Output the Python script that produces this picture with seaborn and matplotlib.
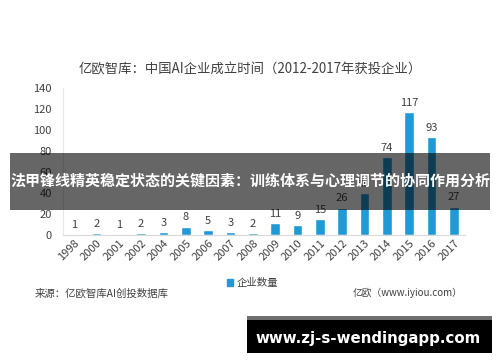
import numpy as np
import pandas as pd
import matplotlib
matplotlib.use("Agg")
import matplotlib.pyplot as plt
import seaborn as sns
from matplotlib.patches import Rectangle

# data
years = ['1998', '2000', '2001', '2002', '2004', '2005', '2006', '2007', '2008',
         '2009', '2010', '2011', '2012', '2013', '2014', '2015', '2016', '2017']
counts = [1, 2, 1, 2, 3, 8, 5, 3, 2, 11, 9, 15, 26, 40, 74, 117, 93, 27]
y_ticks = [0, 20, 40, 60, 80, 100, 120, 140]

title = '亿欧智库：中国AI企业成立时间（2012-2017年获投企业）'
series_name = '企业数量'
source = '来源：亿欧智库AI创投数据库'
credit = '亿欧（www.iyiou.com）'
banner = '法甲锋线精英稳定状态的关键因素：训练体系与心理调节的协同作用分析'
site = 'www.zj-s-wendingapp.com'

sns.set_style('white')
plt.rcParams['font.family'] = ['Noto Sans CJK SC', 'DejaVu Sans']

bar_color = '#1f9ad6'
text_color = '#404040'

df = pd.DataFrame({'year': years, 'count': counts})

fig = plt.figure(figsize=(5, 3.62), dpi=100)
ax = fig.add_axes([0.126, 0.351, 0.804, 0.406])
sns.barplot(data=df, x='year', y='count', color=bar_color, width=0.42,
            saturation=1, ax=ax)
ax.bar_label(ax.containers[0], padding=3, fontsize=8, color=text_color)

ax.set_ylim(0, 140)
ax.set_yticks(y_ticks)
ax.set_xlim(-0.5, len(years) - 0.5)
ax.set_xlabel('')
ax.set_ylabel('')
ax.tick_params(axis='y', labelsize=8, labelcolor=text_color, length=0, pad=8)
ax.tick_params(axis='x', labelsize=8, labelcolor=text_color, length=0, pad=2)
plt.setp(ax.get_xticklabels(), rotation=45, ha='right', rotation_mode='anchor')
for side in ['top', 'right']:
    ax.spines[side].set_visible(False)
ax.spines['left'].set_color('#e6e6e6')
ax.spines['bottom'].set_color('#d9d9d9')
ax.spines['left'].set_linewidth(0.8)
ax.spines['bottom'].set_linewidth(0.8)

fig.text(0.5, 0.807, title, ha='center', va='center', fontsize=9.6, color=text_color)

# legend and footer
handle = Rectangle((0, 0), 1, 1, color=bar_color)
fig.legend([handle], [series_name], loc='center', bbox_to_anchor=(0.505, 0.218),
           frameon=False, fontsize=7.5, handlelength=0.6, handleheight=0.6,
           handletextpad=0.4, labelcolor=text_color)
fig.text(0.07, 0.19, source, ha='left', va='center', fontsize=7.5, color=text_color)
fig.text(0.706, 0.19, credit, ha='left', va='center', fontsize=7, color=text_color)

# overlay banner
fig.patches.append(Rectangle((0.02, 0.42), 0.96, 0.157, transform=fig.transFigure,
                             facecolor='black', alpha=0.6, edgecolor='none', zorder=5))
fig.text(0.5, 0.5, banner, ha='center', va='center', fontsize=10.8,
         fontweight='bold', color='white', zorder=6)

# site box
fig.patches.append(Rectangle((0.494, 0.025), 0.49, 0.102, transform=fig.transFigure,
                             facecolor='black', edgecolor='none', zorder=5))
fig.patches.append(Rectangle((0.494, 0.116), 0.49, 0.011, transform=fig.transFigure,
                             facecolor='#6e6e6e', edgecolor='none', zorder=6))
fig.text(0.736, 0.066, site, ha='center', va='center', fontsize=10.8,
         fontweight='bold', color='white', zorder=7, family=['DejaVu Sans'])

fig.savefig('out.png', dpi=100, facecolor='white')
